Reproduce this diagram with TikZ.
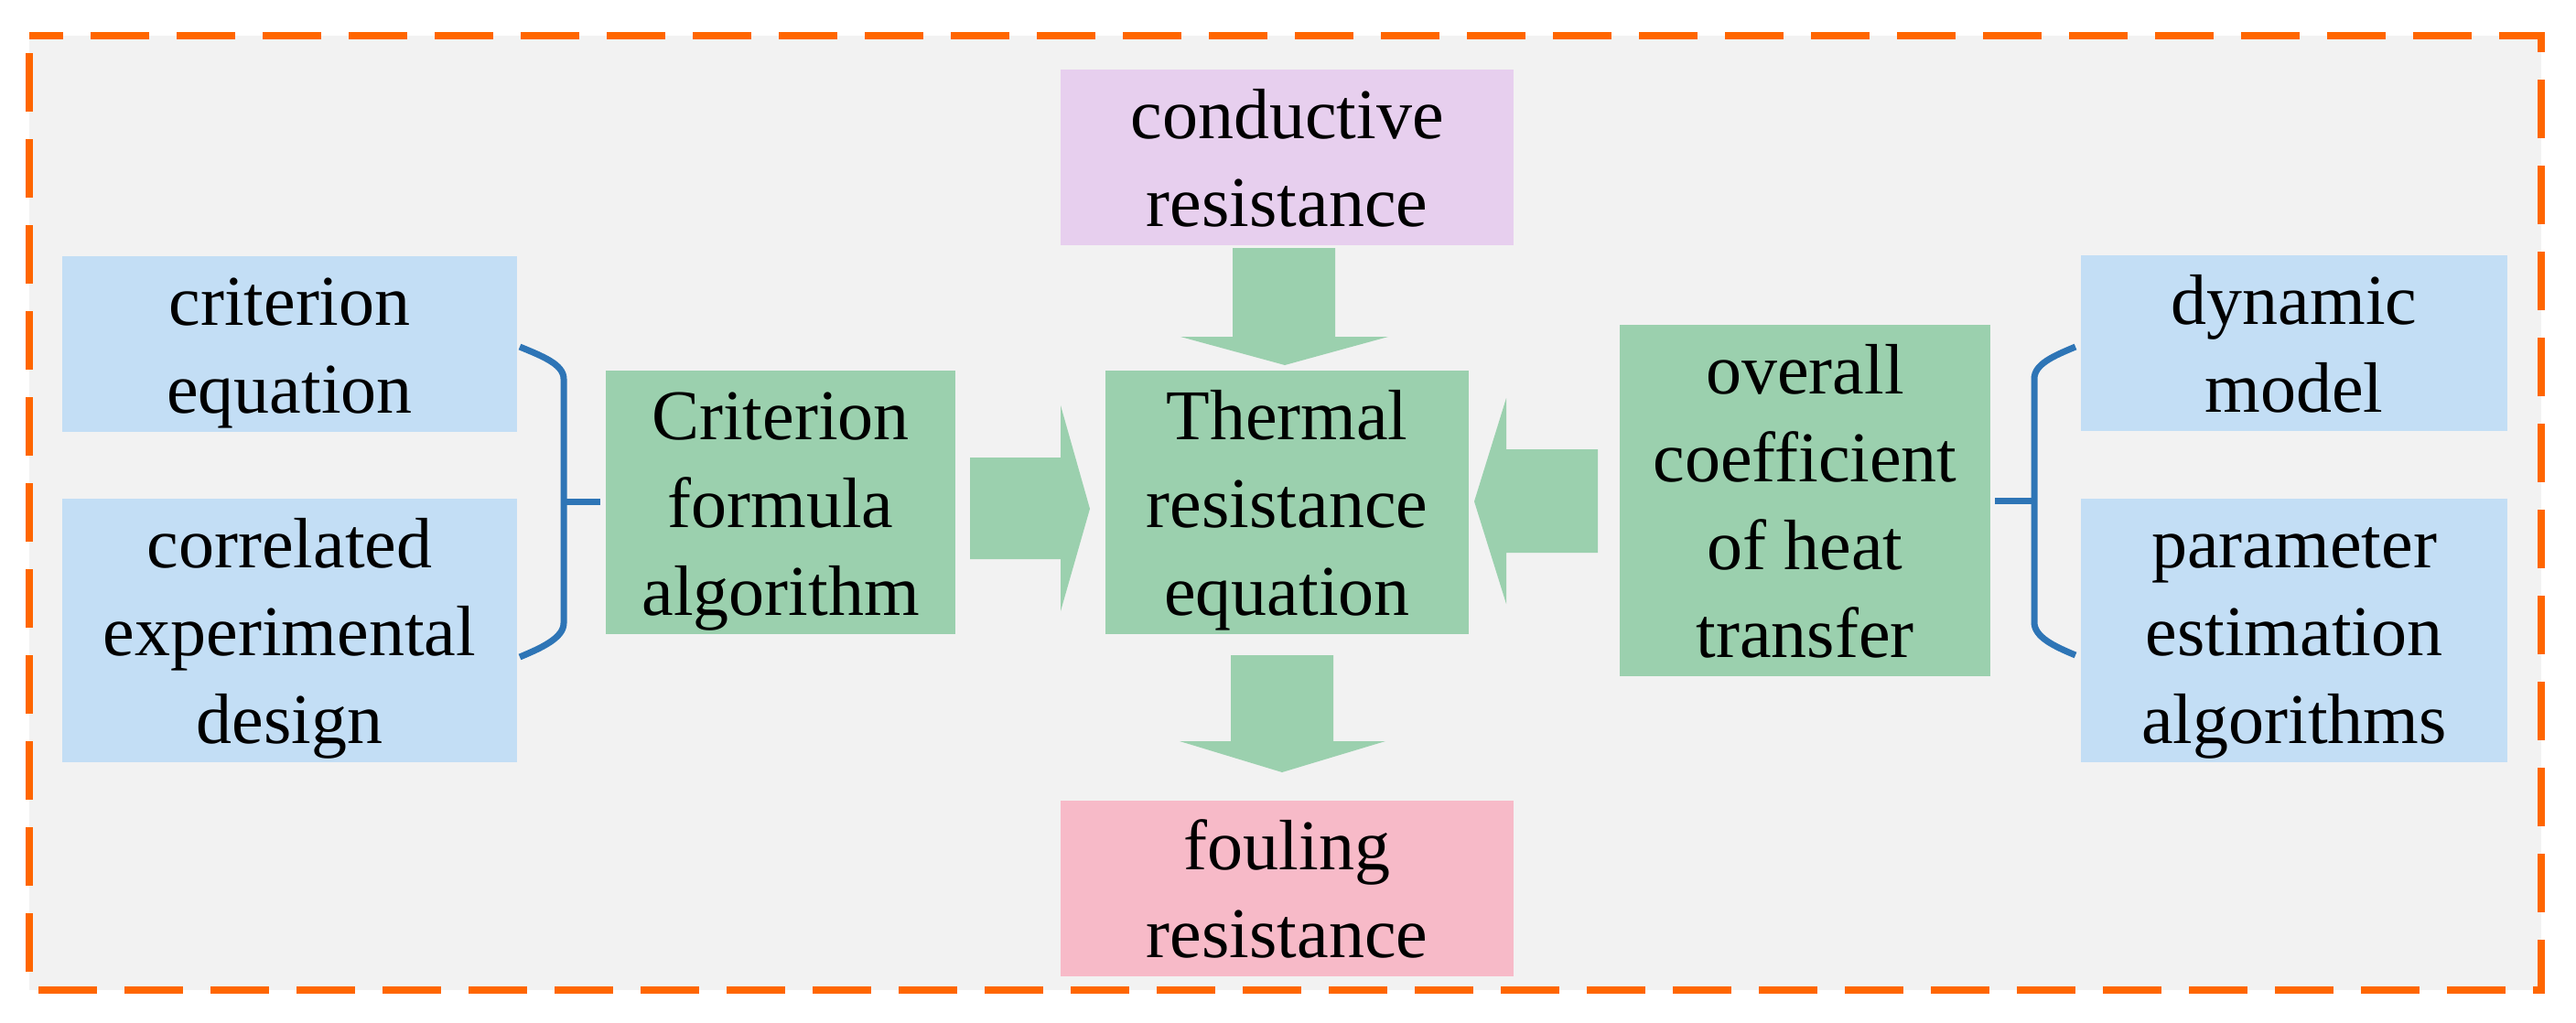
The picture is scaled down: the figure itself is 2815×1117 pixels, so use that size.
\documentclass[tikz,border=0pt]{standalone}
\usepackage{fontspec}
\setmainfont{Liberation Serif}
\usetikzlibrary{calc}
\definecolor{bgGray}{HTML}{F2F2F2}
\definecolor{frameOrange}{HTML}{FF6600}
\definecolor{boxBlue}{HTML}{C3DEF5}
\definecolor{boxGreen}{HTML}{9BD0AE}
\definecolor{boxLilac}{HTML}{E7CFEE}
\definecolor{boxPink}{HTML}{F7BAC8}
\definecolor{braceBlue}{HTML}{2E75B6}
\newcommand\ls{\rule[-20.5pt]{0pt}{96pt}}
\begin{document}
\begin{tikzpicture}[x=1pt,y=-1pt,
  box/.style={draw=none, inner sep=0pt, outer sep=0pt, align=center,
    font=\fontsize{78}{96}\selectfont},
  bluebox/.style={box, fill=boxBlue},
  greenbox/.style={box, fill=boxGreen},
  lilacbox/.style={box, fill=boxLilac},
  pinkbox/.style={box, fill=boxPink},
  blockarrow/.style={fill=boxGreen, draw=none},
  bracket/.style={draw=braceBlue, line width=7pt}]
\useasboundingbox (0,0) rectangle (2815,1117);
% frame
\fill[bgGray] (32,39) rectangle (2777,1082);
\draw[frameOrange, line width=8.5pt, dash pattern=on 64pt off 30pt, dash phase=75pt]
  (32,39) rectangle (2777,1082);
% boxes
\node[bluebox, minimum width=497pt, minimum height=177pt] (crit) at (316.5,375.5) {\ls criterion\\\ls equation};
\node[bluebox, minimum width=497pt, minimum height=281pt] (corr) at (316.5,688.5) {\ls correlated\\\ls experimental\\\ls design};
\node[greenbox, minimum width=382pt, minimum height=283pt] (form) at (853,548.5) {\ls Criterion\\\ls formula\\\ls algorithm};
\node[greenbox, minimum width=397pt, minimum height=283pt] (therm) at (1406.5,548.5) {\ls Thermal\\\ls resistance\\\ls equation};
\node[lilacbox, minimum width=495pt, minimum height=177pt] (cond) at (1406.5,171.5) {\ls conductive\\\ls resistance};
\node[pinkbox, minimum width=495pt, minimum height=177pt] (foul) at (1406.5,970.5) {\ls fouling\\\ls resistance};
\node[greenbox, minimum width=405pt, minimum height=366pt] (over) at (1972.5,547) {\ls overall\\\ls coefficient\\\ls of heat\\\ls transfer};
\node[bluebox, minimum width=466pt, minimum height=176pt] (dyn) at (2507,375) {\ls dynamic\\\ls model};
\node[bluebox, minimum width=466pt, minimum height=281pt] (param) at (2507,688.5) {\ls parameter\\\ls estimation\\\ls algorithms};
% block arrows
\fill[blockarrow] (1060,500) -- (1159,500) -- (1159,443) -- (1191,556) -- (1159,668) -- (1159,611) -- (1060,611) -- cycle;
\fill[blockarrow] (1746,491) -- (1646,491) -- (1646,435) -- (1611,548) -- (1646,660) -- (1646,604) -- (1746,604) -- cycle;
\fill[blockarrow] (1347,271) -- (1459,271) -- (1459,368) -- (1517,368) -- (1404,399) -- (1290,368) -- (1347,368) -- cycle;
\fill[blockarrow] (1345,716) -- (1457,716) -- (1457,810) -- (1514,810) -- (1401,844) -- (1289,810) -- (1345,810) -- cycle;
% brackets
\draw[bracket] (568,379) .. controls (592,389) and (616,398) .. (616,414) -- (616,681)
  .. controls (616,697) and (592,708) .. (568,718);
\draw[bracket] (616,548) -- (656,548);
\draw[bracket] (2268,379) .. controls (2244,389) and (2223,398) .. (2223,414) -- (2223,680)
  .. controls (2223,696) and (2244,706) .. (2268,716);
\draw[bracket] (2180,547) -- (2223,547);
\end{tikzpicture}
\end{document}
